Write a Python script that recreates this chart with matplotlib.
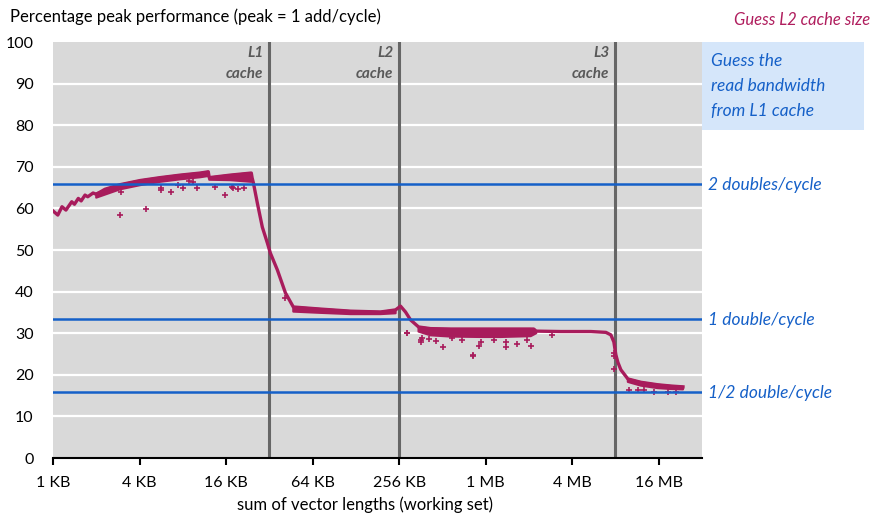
import matplotlib
matplotlib.use("Agg")
import matplotlib.pyplot as plt
from matplotlib.patches import Rectangle

plt.rcParams['font.family'] = ['Lato', 'DejaVu Sans']

# ---------------- data ----------------
# main (upper) trace: working-set size in KB, percentage of peak
main_kb = [1.0, 1.08, 1.155, 1.23, 1.35, 1.41, 1.50, 1.57, 1.67, 1.745, 1.9, 2.0,
           2.3, 2.93, 4.04, 5.57, 7.67, 10.58, 12.03, 12.22, 17.1, 23.97, 24.3,
           24.8, 26.4, 28.6, 31.0, 32.5, 36.4, 41.4, 47.0, 72.6, 117.4, 190,
           241.7, 261.8, 283.6, 307.4, 349.5, 423.8, 584, 945, 1302, 2212, 2300,
           3411, 5522, 7024, 7611, 7983, 8244, 8515, 8934, 9995, 12313, 16168,
           19919, 24160]
main_pct = [59.4, 58.4, 60.4, 59.6, 61.6, 61.0, 62.4, 61.8, 63.2, 62.8, 63.7, 63.4,
            64.6, 65.7, 66.7, 67.4, 68.0, 68.5, 68.8, 67.4, 68.0, 68.5, 67.3,
            66.1, 61.3, 55.5, 51.7, 49.3, 45.2, 39.7, 36.3, 35.8, 35.3, 35.1,
            35.6, 36.5, 35.1, 33.2, 31.5, 31.1, 31.0, 31.0, 31.0, 31.0, 30.5,
            30.4, 30.4, 30.2, 29.6, 27.9, 24.8, 23.0, 21.2, 19.0, 18.2, 17.6,
            17.3, 17.1]

# thick/noisy bands: (upper edge) and (lower edge)
band1_kb = [2.0, 2.93, 4.04, 5.57, 7.67, 10.58, 12.03]
band1_hi = [63.6, 65.7, 66.7, 67.4, 68.0, 68.5, 68.8]
band1_lo = [62.6, 64.6, 65.6, 66.4, 67.0, 67.5, 67.8]
band2_kb = [12.22, 17.1, 23.97]
band2_hi = [67.4, 68.0, 68.5]
band2_lo = [66.9, 66.8, 66.4]
band3_kb = [47.0, 72.6, 117.4, 190, 241.7]
band3_hi = [36.3, 35.8, 35.3, 35.1, 35.6]
band3_lo = [35.2, 34.9, 34.6, 34.6, 34.8]
band4_kb = [349.5, 423.8, 584, 945, 1302, 2108, 2300]
band4_hi = [31.5, 31.1, 31.0, 31.0, 31.0, 31.0, 30.5]
band4_lo = [30.4, 29.5, 29.2, 29.1, 29.1, 29.3, 30.0]
band5_kb = [9995, 12313, 16168, 19919, 24160]
band5_hi = [19.0, 18.2, 17.6, 17.3, 17.1]
band5_lo = [18.3, 17.4, 16.8, 16.6, 16.5]

# scattered outlying measurements
out_kb = [2.93, 4.45, 2.95, 5.63, 5.63, 6.61, 7.43, 8.09, 8.87, 9.45, 10.03,
          13.45, 15.8, 17.6, 17.96, 19.46, 21.4,
          41.4, 291.6, 371, 291.6, 365, 365, 412, 459, 520, 600, 704, 840, 840,
          920, 945, 1170, 1411, 1411, 1704, 1977, 2108, 2950,
          7944, 7944, 7944, 10200, 11680, 12920, 15170, 18900, 21590]
out_pct = [58.4, 59.9, 63.9, 64.8, 64.4, 63.9, 65.6, 64.8, 66.7, 66.4, 64.8,
           65.2, 63.2, 65.2, 64.8, 64.6, 65.0,
           38.5, 30.1, 28.8, 30.1, 28.4, 28.0, 28.6, 28.2, 26.6, 28.8, 28.4, 24.8, 24.4,
           26.9, 28.0, 28.4, 28.0, 26.8, 27.4, 28.4, 26.9, 29.6,
           25.2, 24.6, 21.3, 16.3, 16.3, 16.3, 15.9, 15.9, 15.9]

# reference levels
levels = [65.9, 33.5, 15.8]
level_labels = ["2 doubles/cycle", "1 double/cycle", "1/2 double/cycle"]

cache_kb = [32, 256, 8192]
cache_names = ["L1", "L2", "L3"]

xtick_kb = [1, 4, 16, 64, 256, 1024, 4096, 16384]
xtick_labels = ["1 KB", "4 KB", "16 KB", "64 KB", "256 KB", "1 MB", "4 MB", "16 MB"]
yticks = [0, 10, 20, 30, 40, 50, 60, 70, 80, 90, 100]

# ---------------- figure ----------------
W, H = 875, 518
fig = plt.figure(figsize=(W / 100, H / 100), dpi=100)
ax = fig.add_axes([53 / W, 1 - 458 / H, (702 - 53) / W, (458 - 42) / H])
ax.set_facecolor('#D9D9D9')
ax.set_xscale('log', base=2)
ax.set_xlim(1, 32768)
ax.set_ylim(0, 100)

for y in yticks[1:-1]:
    ax.axhline(y, color='white', lw=1.6, zorder=1)

mag = '#A81C5C'
blue = '#1560C8'

for kb in cache_kb:
    ax.axvline(kb, color='#666666', lw=2.2, zorder=2)

ax.plot(main_kb, main_pct, color=mag, lw=2.4, zorder=4, solid_joinstyle='round')
for xs, hi, lo in [(band1_kb, band1_hi, band1_lo), (band2_kb, band2_hi, band2_lo),
                   (band3_kb, band3_hi, band3_lo), (band4_kb, band4_hi, band4_lo),
                   (band5_kb, band5_hi, band5_lo)]:
    ax.fill(list(xs) + list(xs)[::-1], list(hi) + list(lo)[::-1], facecolor=mag,
            edgecolor=mag, lw=1.6, zorder=4, joinstyle='round')
ax.scatter(out_kb, out_pct, marker='+', s=14, color=mag, lw=1.2, zorder=4)

for lv in levels:
    ax.axhline(lv, color=blue, lw=1.8, zorder=5)

for kb, name in zip(cache_kb, cache_names):
    ax.text(kb / 1.1, 97.3, name, ha='right', va='center', fontsize=11,
            fontweight='bold', style='italic', color='#595959', zorder=6)
    ax.text(kb / 1.1, 92.2, "cache", ha='right', va='center', fontsize=11,
            fontweight='bold', style='italic', color='#595959', zorder=6)

for s in ['top', 'right', 'left']:
    ax.spines[s].set_visible(False)
ax.spines['bottom'].set_color('black')
ax.spines['bottom'].set_linewidth(1.5)
ax.spines['bottom'].set_zorder(6)

ax.set_xticks(xtick_kb)
ax.set_xticklabels(xtick_labels, fontsize=11.5)
ax.minorticks_off()
ax.tick_params(axis='x', direction='out', length=5, width=1.5, pad=8)
ax.set_yticks(yticks)
ax.set_yticklabels([str(v) for v in yticks], fontsize=11.5)
ax.tick_params(axis='y', length=0, pad=14)

fig.text(365 / W, 1 - 505 / H, "sum of vector lengths (working set)", ha='center',
         va='center', fontsize=12)
fig.text(10 / W, 1 - 17 / H, "Percentage peak performance (peak = 1 add/cycle)",
         ha='left', va='center', fontsize=12)

fig.text(870 / W, 1 - 20 / H, "Guess L2 cache size", ha='right', va='center',
         fontsize=12, style='italic', color='#B01E5E')

fig.patches.append(Rectangle((702 / W, 1 - 130 / H), (864 - 702) / W, (130 - 42) / H,
                             transform=fig.transFigure, facecolor='#D5E6FA',
                             edgecolor='none', zorder=0))
for i, line in enumerate(["Guess the", "read bandwidth", "from L1 cache"]):
    fig.text(711 / W, 1 - (61 + 25 * i) / H, line, ha='left', va='center',
             fontsize=12.5, style='italic', color=blue)

for lv, lab in zip(levels, level_labels):
    ypx = 458 - lv * 4.16
    fig.text(708 / W, 1 - (ypx + 1) / H, lab, ha='left', va='center',
             fontsize=12.5, style='italic', color=blue)

fig.savefig('out.png', dpi=100)
